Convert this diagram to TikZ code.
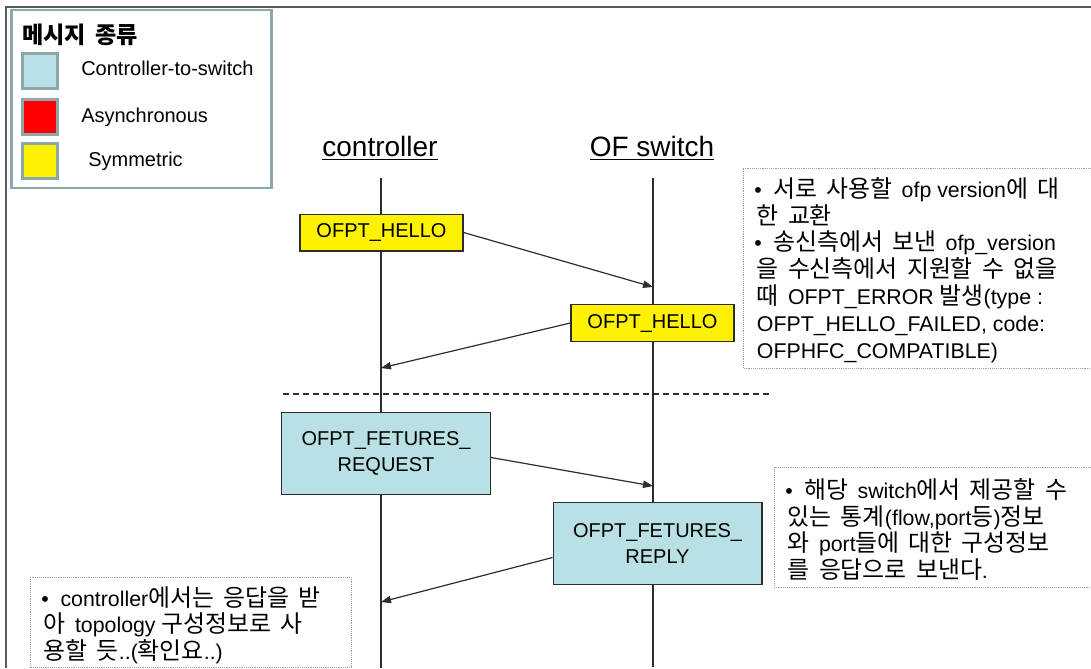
\documentclass[tikz,border=0pt]{standalone}
\usepackage{fontspec}
\setmainfont{Liberation Sans}
\newfontfamily\latinfont{Liberation Sans}
\newfontfamily\krfont[Scale=1.12,WordSpace=1.7]{Noto Sans CJK KR}
\usetikzlibrary{arrows.meta,calc}

% Hangul syllables are set in the Korean face, everything else in the Latin one
\XeTeXinterchartokenstate=1
\newXeTeXintercharclass\hangulclass
\count255="AC00
\loop
  \XeTeXcharclass\count255=\hangulclass
  \ifnum\count255<"D7A3
  \advance\count255 by 1
\repeat
\XeTeXinterchartoks 0 \hangulclass = {\krfont}
\XeTeXinterchartoks 2 \hangulclass = {\krfont}
\XeTeXinterchartoks 3 \hangulclass = {\krfont}
\XeTeXinterchartoks 4095 \hangulclass = {\krfont}
\XeTeXinterchartoks \hangulclass 0 = {\latinfont}
\XeTeXinterchartoks \hangulclass 2 = {\latinfont}
\XeTeXinterchartoks \hangulclass 3 = {\latinfont}
\XeTeXinterchartoks 4095 0 = {\latinfont}

\definecolor{ctosblue}{RGB}{185,224,228}
\definecolor{legendedge}{RGB}{140,168,174}
\definecolor{framegrey}{RGB}{90,90,90}
\definecolor{notegrey}{RGB}{160,160,160}
\definecolor{inkgrey}{RGB}{45,45,45}

\begin{document}
\begin{tikzpicture}[x=0.75pt,y=-0.75pt,
  lifeline/.style={draw=inkgrey, line width=1.1pt},
  msg/.style={draw=inkgrey, line width=1pt, inner sep=0pt, align=center,
    font=\fontsize{15}{19}\selectfont},
  hello/.style={msg, fill=yellow, minimum width=122.25pt, minimum height=27.5pt},
  ctos/.style={msg, fill=ctosblue, minimum width=156.5pt, minimum height=61.5pt},
  flow/.style={draw=inkgrey, line width=0.9pt, -{Triangle[length=7.5pt,width=5.5pt]}},
  notebox/.style={draw=notegrey, line width=0.6pt, dash pattern=on 0.7pt off 0.7pt},
  notetext/.style={inner sep=0pt, align=left, anchor=north west,
    font=\fontsize{16}{20.1}\selectfont},
  swatch/.style={draw=legendedge, line width=2.2pt, minimum width=26.5pt,
    minimum height=26.5pt, inner sep=0pt},
  legendlabel/.style={inner sep=0pt, anchor=west, font=\fontsize{15}{18}\selectfont},
  party/.style={inner sep=0pt, font=\fontsize{21}{25}\selectfont}
]
\useasboundingbox (0,0) rectangle (1091,668);

% page frame (top and left edges)
\draw[framegrey, line width=1.4pt] (6,668) -- (6,7) -- (1091,7);

% legend of message kinds
\node[draw=legendedge, line width=2.2pt, fill=white, minimum width=194.5pt,
  minimum height=133.5pt, inner sep=0pt] (legend) at (141.5,99) {};
\node[inner sep=0pt, anchor=west, font=\fontsize{15.5}{19}\selectfont\bfseries]
  (legendtitle) at (22,35) {메시지 종류};
\node[swatch, fill=ctosblue] (sw1) at (40,71) {};
\node[swatch, fill=red] (sw2) at (40,117) {};
\node[swatch, fill=yellow] (sw3) at (40,161) {};
\node[legendlabel] (lb1) at (81,68) {Controller-to-switch};
\node[legendlabel] (lb2) at (81,117) {Asynchronous};
\node[legendlabel] (lb3) at (88,161) {Symmetric};

% the two parties
\node[party] (ctl) at (380,148) {\underline{controller}};
\node[party] (sw) at (652,148) {\underline{OF switch}};

% lifelines
\coordinate (ctltop) at (381,178);
\coordinate (ctlbot) at (381,668);
\coordinate (swtop) at (653,178);
\coordinate (swbot) at (653,667);
\draw[lifeline] (ctltop) -- (ctlbot);
\draw[lifeline] (swtop) -- (swbot);

% separator between the hello exchange and the features exchange
\coordinate (sepL) at (283,394);
\coordinate (sepR) at (772,394);
\draw[inkgrey, line width=0.9pt, dash pattern=on 4.5pt off 3pt] (sepL) -- (sepR);

% messages
\node[hello] (hello1) at (381.5,232.5) {OFPT\_HELLO};
\node[hello] (hello2) at (652.5,323) {OFPT\_HELLO};
\node[ctos] (req) at (386,453.5) {OFPT\_FETURES\_\\REQUEST};
\node[ctos] (rep) at (657.5,543.5) {OFPT\_FETURES\_\\REPLY};

% arrival points on the lifelines
\coordinate (in1) at (653,287);
\coordinate (in2) at (381,368);
\coordinate (in3) at (653,486);
\coordinate (in4) at (381,602);
\draw[flow] (hello1.east) -- (in1);
\draw[flow] (hello2.west) -- (in2);
\draw[flow] ($(req.east)+(0,4)$) -- (in3);
\draw[flow] ($(rep.west)+(0,14)$) -- (in4);

% side notes
\draw[notebox] (1091,168) -- (743,168) -- (743,368) -- (1091,368);
\node[notetext] (note1) at (754,177) {%
•\ \ 서로 사용할 ofp version에 대\\
\hspace{2pt}한 교환\\
•\ \ 송신측에서 보낸 ofp\_version\\
\hspace{2pt}을 수신측에서 지원할 수 없을\\
\hspace{2pt}때 OFPT\_ERROR 발생(type :\\
\hspace{2pt}OFPT\_HELLO\_FAILED, code:\\
\hspace{2pt}OFPHFC\_COMPATIBLE)};

\draw[notebox] (1091,467) -- (774,467) -- (774,587) -- (1091,587);
\node[notetext] (note2) at (785,478) {%
•\ \ 해당 switch에서 제공할 수\\
\hspace{2pt}있는 통계(flow,port등)정보\\
\hspace{2pt}와 port들에 대한 구성정보\\
\hspace{2pt}를 응답으로 보낸다.};

\draw[notebox] (30,577) rectangle (351,667);
\node[notetext] (note3) at (41,586) {%
•\ \ controller에서는 응답을 받\\
\hspace{2pt}아 topology 구성정보로 사\\
\hspace{2pt}용할 듯..(확인요..)};
\end{tikzpicture}
\end{document}
